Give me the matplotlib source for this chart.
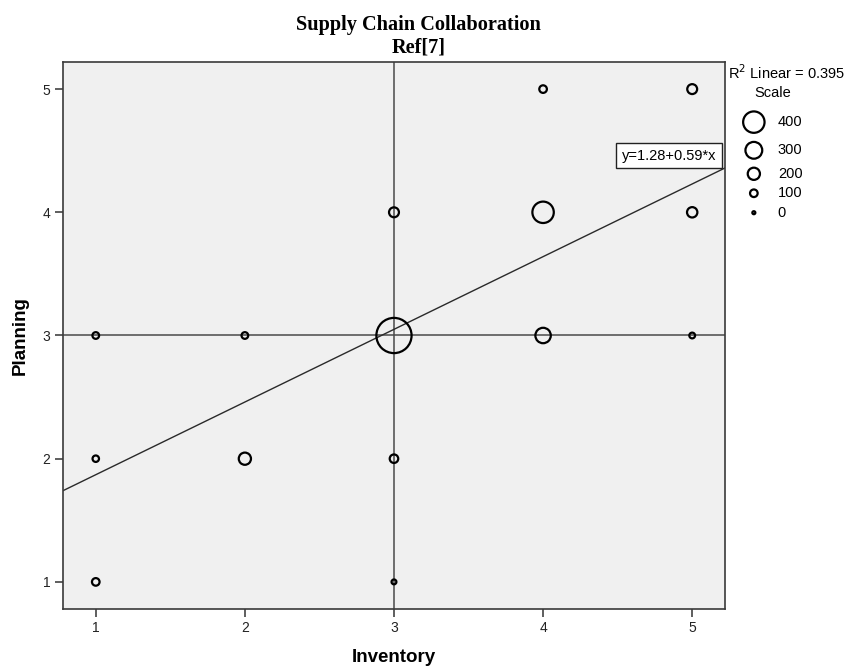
"""
Bubble scatter: Inventory vs Planning (Supply Chain Collaboration, Ref[7])
SPSS-style chart with mean reference lines and a linear fit.
"""

import numpy as np
import matplotlib.pyplot as plt

# data
inventory = [1, 1, 1, 2, 2, 3, 3, 3, 3, 4, 4, 4, 5, 5, 5]
planning = [1, 2, 3, 2, 3, 1, 2, 3, 4, 3, 4, 5, 3, 4, 5]
scale = [100, 75, 80, 200, 80, 40, 120, 700, 150, 270, 400, 100, 60, 160, 150]

legend_values = [400, 300, 200, 100, 0]

intercept = 1.28
slope = 0.59
r_squared = 0.395
mean_x = 3
mean_y = 3

x_ticks = [1, 2, 3, 4, 5]
y_ticks = [1, 2, 3, 4, 5]

DPI = 100
PX_PER_PT = DPI / 72.0


def marker_area(v):
    """SPSS-like scaling: diameter grows linearly with the value (in px)."""
    d_px = 3 + 0.046 * np.asarray(v, dtype=float)
    return (d_px / PX_PER_PT) ** 2


fig = plt.figure(figsize=(8.44, 6.71), dpi=DPI)
ax = fig.add_axes([0.0746, 0.0924, 0.7844, 0.8152])
ax.set_facecolor('#f0f0f0')

xlim = (0.78, 5.22)
ylim = (0.78, 5.22)

# reference lines at the means
ax.axvline(mean_x, color='#4a4a4a', lw=1.1, zorder=1)
ax.axhline(mean_y, color='#4a4a4a', lw=1.1, zorder=1)

# fit line across the whole x range
fx = np.array(xlim)
ax.plot(fx, intercept + slope * fx, color='#2a2a2a', lw=1.0, zorder=2)

ax.scatter(inventory, planning, s=marker_area(scale), facecolors='none',
           edgecolors='black', linewidths=1.6, zorder=3)

ax.set_xlim(*xlim)
ax.set_ylim(*ylim)
ax.set_xticks(x_ticks)
ax.set_yticks(y_ticks)
ax.tick_params(direction='out', length=6, width=1.1, color='#333333', pad=3,
               labelsize=10, labelcolor='#222222', top=False, right=False)
for lab in ax.get_xticklabels() + ax.get_yticklabels():
    lab.set_family('Liberation Sans')
for sp in ax.spines.values():
    sp.set_color('#3a3a3a')
    sp.set_linewidth(1.2)

ax.set_xlabel('Inventory', fontsize=13.5, fontweight='bold',
              family='Liberation Sans', labelpad=10)
ax.set_ylabel('Planning', fontsize=13.5, fontweight='bold',
              family='Liberation Sans', labelpad=10)

# title, two lines (SPSS centres it over the whole chart incl. legend)
fig.text(0.496, 0.955, 'Supply Chain Collaboration', ha='center', va='baseline',
         fontsize=14.6, fontweight='bold', family='Liberation Serif')
fig.text(0.496, 0.9225, 'Ref[7]', ha='center', va='baseline',
         fontsize=14.6, fontweight='bold', family='Liberation Serif')

# equation label box
ax.text(4.845, 4.46, 'y=%.2f+%.2f*x' % (intercept, slope), ha='center', va='center',
        fontsize=10.5, family='Liberation Sans', zorder=4,
        bbox=dict(boxstyle='square,pad=0.4', fc='white', ec='#222222', lw=1))

# R2 and size legend on the right
fig.text(0.862, 0.891, r'R$^2$ Linear = %.3f' % r_squared, ha='left', va='center',
         fontsize=10.5, family='Liberation Sans')
fig.text(0.916, 0.861, 'Scale', ha='center', va='center',
         fontsize=10.5, family='Liberation Sans')

leg_y = [0.818, 0.776, 0.741, 0.712, 0.683]
lax = fig.add_axes([0.86, 0.0, 0.14, 1.0])
lax.set_xlim(0, 1)
lax.set_ylim(0, 1)
lax.axis('off')
lax.scatter([0.237] * len(legend_values), leg_y, s=marker_area(legend_values),
            facecolors='none', edgecolors='black', linewidths=1.6)
for v, y in zip(legend_values, leg_y):
    lax.text(0.44, y, str(v), ha='left', va='center', fontsize=10.5,
             family='Liberation Sans')

fig.savefig('out.png', dpi=DPI)
